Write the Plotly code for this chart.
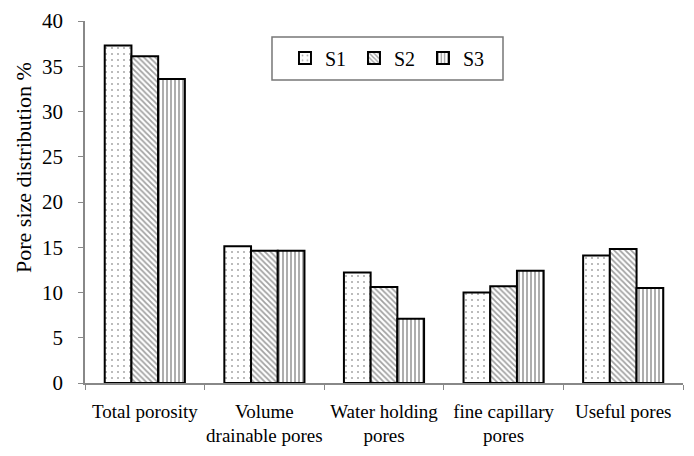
import plotly.graph_objects as go

categories = ["Total porosity", "Volume<br>drainable pores", "Water holding<br>pores",
              "fine capillary<br>pores", "Useful pores"]
s1 = [37.3, 15.1, 12.2, 10.0, 14.1]
s2 = [36.1, 14.6, 10.6, 10.7, 14.8]
s3 = [33.6, 14.6, 7.1, 12.4, 10.5]
y_ticks = [0, 5, 10, 15, 20, 25, 30, 35, 40]

FONT = "Liberation Serif, Times New Roman, DejaVu Serif, serif"

series = [
    ("S1", s1, dict(shape=".", fgcolor="#555555", bgcolor="white", size=6, solidity=0.1)),
    ("S2", s2, dict(shape="\\", fgcolor="#444444", bgcolor="white", size=4, solidity=0.45)),
    ("S3", s3, dict(shape="|", fgcolor="#333333", bgcolor="white", size=4, solidity=0.4)),
]

fig = go.Figure()
for name, vals, pat in series:
    fig.add_trace(go.Bar(
        x=categories, y=vals, name=name,
        marker=dict(color="white", line=dict(color="black", width=2), pattern=pat),
    ))

# framed key box drawn separately so the entries can sit inside with extra padding
fig.add_shape(type="rect", xref="paper", yref="paper",
              x0=0.3127, x1=0.699, y0=0.837, y1=0.956,
              line=dict(color="#777777", width=1.5), fillcolor="white", layer="below")

fig.add_annotation(text="Pore size distribution %", textangle=-90,
                   xref="paper", yref="paper", x=-0.102, y=0.594,
                   xanchor="center", yanchor="middle", showarrow=False,
                   font=dict(family=FONT, size=22))

fig.update_layout(
    width=694, height=456,
    margin=dict(l=85, r=11, t=21, b=73, autoexpand=False),
    paper_bgcolor="white", plot_bgcolor="white",
    barmode="group", bargap=0.33, bargroupgap=0,
    font=dict(family=FONT, size=18, color="black"),
    showlegend=True,
    legend=dict(
        orientation="h", x=0.3344, y=0.952, xanchor="left", yanchor="top",
        borderwidth=0, bgcolor="rgba(0,0,0,0)",
        font=dict(family=FONT, size=20), entrywidth=24, itemwidth=30,
        traceorder="normal",
    ),
    xaxis=dict(
        showline=True, linecolor="#888888", linewidth=1.5,
        ticks="outside", tickson="boundaries", ticklen=5, tickcolor="#888888",
        tickfont=dict(family=FONT, size=19), ticklabelstandoff=10,
        tickangle=0, automargin=False,
    ),
    yaxis=dict(
        range=[0, 40], tickvals=y_ticks, showgrid=False, zeroline=False,
        showline=True, linecolor="#888888", linewidth=1.5,
        ticks="outside", ticklen=5, tickcolor="#888888",
        tickfont=dict(family=FONT, size=21), ticklabelstandoff=11,
        automargin=False,
    ),
)

fig.write_html("out.html")
